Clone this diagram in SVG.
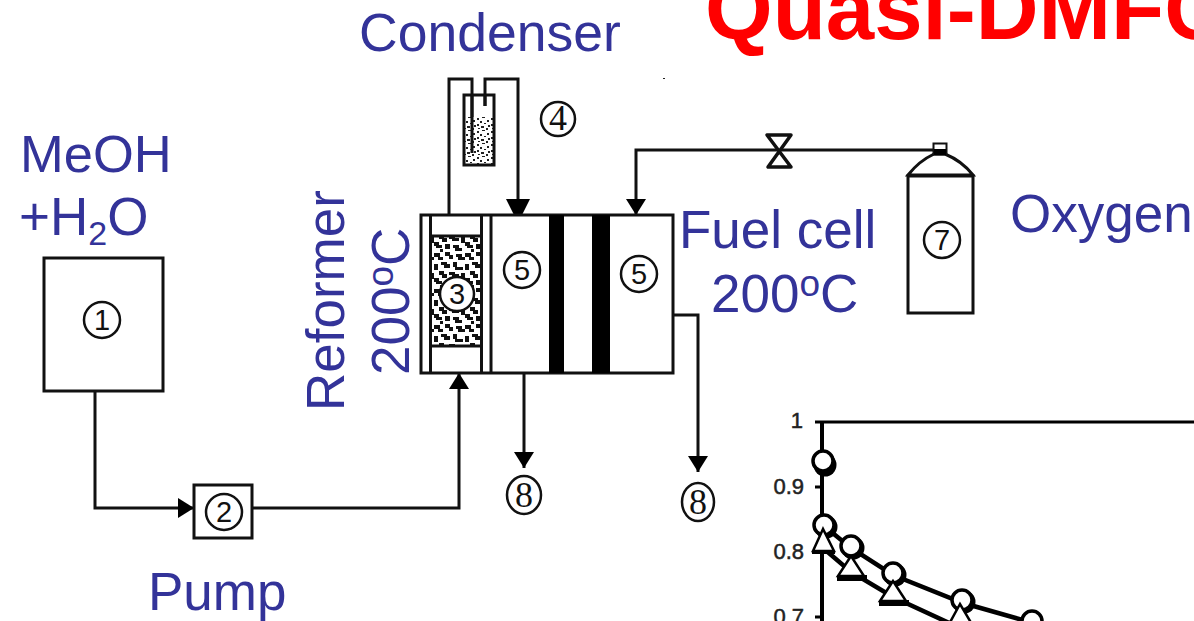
<svg xmlns="http://www.w3.org/2000/svg" width="1194" height="621" viewBox="0 0 1194 621">
<defs>
<style>
.l{font-family:"Liberation Sans",Arial,sans-serif;fill:#333399;font-size:53px}
.s{fill:#fff;stroke:#111;stroke-width:3}
.w{fill:none;stroke:#111;stroke-width:3}
.c{fill:#fff;stroke:#111;stroke-width:2.500}
.n{font-family:"Liberation Sans",Arial,sans-serif;font-size:29px;fill:#111;text-anchor:middle}
.nf{font-family:"Liberation Serif",serif;font-size:36px;fill:#111;text-anchor:middle}
.a{font-family:"Liberation Sans",Arial,sans-serif;font-size:22px;fill:#222;stroke:#222;stroke-width:.5;text-anchor:end}
.pc{fill:#fff;stroke:#000;stroke-width:3.500}
.pt{fill:#fff;stroke:#000;stroke-width:2.500}
</style>
<pattern id="cat" width="31" height="36" patternUnits="userSpaceOnUse">
<rect width="31" height="36" fill="#fff"/>
<path d="M0 1h6v4h3v3h-5v-3h-4zM11 0h5v3h3v4h-4v-3h-4zM22 2h6v3h3v3h-7v-3h-2zM7 10h6v2h3v4h-6v-3h-3zM19 10h4v5h6v3h-8v-3h-2zM0 12h4v6h-4zM5 19h5v3h3v4h-5v-3h-3zM15 20h6v2h4v3h-7v-2h-3zM27 21h4v6h-4zM0 26h5v3h3v3h-6v-2h-2zM11 28h5v5h-5zM19 29h6v3h3v3h-7v-3h-2zM6 33h3v3h-3z" fill="#111"/>
</pattern>
<pattern id="sti" width="14" height="13" patternUnits="userSpaceOnUse">
<rect width="14" height="13" fill="#fff"/>
<path d="M1 1h2v2h-2zM6 0h3v1h-3zM11 3h2v2h-2zM4 4h2v2h-2zM8 6h2v1h-2zM1 7h2v2h-2zM12 8h2v2h-2zM5 9h3v2h-3zM2 11h2v1h-2zM10 11h2v2h-2z" fill="#222"/>
</pattern>
<marker id="ar" viewBox="0 0 16 20" refX="16" refY="10" markerWidth="16" markerHeight="20" markerUnits="userSpaceOnUse" orient="auto"><path d="M0 0L16 10L0 20z" fill="#000"/></marker>
<marker id="ab" viewBox="0 0 16 24" refX="16" refY="12" markerWidth="16" markerHeight="24" markerUnits="userSpaceOnUse" orient="auto"><path d="M0 0L16 8V16L0 24z" fill="#000"/></marker>
</defs>
<rect width="1194" height="621" fill="#fff"/>
<text x="705" y="39" font-family="'Liberation Sans',Arial,sans-serif" font-weight="bold" font-size="87" fill="#ff0000">Quasi-DMFC</text>
<rect x="663" y="78" width="2" height="1" fill="#222"/>
<g id="connectors">
<path class="w" d="M95 391V508H194" marker-end="url(#ar)"/>
<path class="w" d="M252 508H459V373" marker-end="url(#ar)"/>
<path class="w" d="M449 215V79H472V153"/>
<path class="w" d="M485 106V79H518V215" marker-end="url(#ab)"/>
<path class="w" d="M933 150H636V215" marker-end="url(#ar)"/>
<path class="w" d="M524 373V468" marker-end="url(#ar)"/>
<path class="w" d="M673 315H698V472" marker-end="url(#ar)"/>
</g>
<g id="tank"><rect class="s" x="44" y="258" width="119" height="133"/><circle class="c" cx="102" cy="320" r="18"/><text class="n" x="102" y="330">1</text></g>
<g id="pump"><rect class="s" x="194" y="485" width="58" height="53"/><circle class="c" cx="224" cy="512" r="18"/><text class="n" x="224" y="522">2</text></g>
<g id="condenser">
<rect x="465" y="117" width="28" height="48" fill="url(#sti)"/>
<rect x="464" y="95" width="30" height="70" fill="none" stroke="#111" stroke-width="3"/>
<path class="w" d="M472 95V153M485 95V106"/>
<circle class="c" cx="558" cy="119" r="17"/><text class="nf" x="558" y="130">4</text>
</g>
<g id="reformer-cell">
<rect class="s" x="421" y="215" width="252" height="158"/>
<rect x="431" y="237" width="50" height="108" fill="url(#cat)"/>
<path class="w" d="M430.500 215V373M481.500 215V373M491 215V373M431 236H481M431 346H481"/>
<rect x="549" y="215" width="15" height="158" fill="#000"/>
<rect x="592" y="215" width="18" height="158" fill="#000"/>
<circle class="c" cx="457" cy="294" r="17"/><text class="n" x="457" y="304">3</text>
<circle class="c" cx="522" cy="270" r="18"/><text class="n" x="522" y="280">5</text>
<circle class="c" cx="639" cy="274" r="18"/><text class="n" x="639" y="284">5</text>
</g>
<g id="out-a"><ellipse class="c" cx="524" cy="495" rx="17" ry="19"/><text class="nf" x="524" y="507">8</text></g>
<g id="out-b"><ellipse class="c" cx="698" cy="502" rx="16" ry="19"/><text class="nf" x="698" y="514">8</text></g>
<g id="valve"><path d="M767 135H791L768 167H791Z" fill="#fff" stroke="#111" stroke-width="3.500" stroke-linejoin="round"/></g>
<g id="cylinder">
<path class="s" d="M908 176V313H973V176Z"/>
<path class="s" d="M908 175Q919 161 934 154H945Q962 161 973 175Z"/>
<rect x="933.500" y="143.500" width="13" height="11" fill="#fff" stroke="#111" stroke-width="2"/>
<rect x="934" y="149" width="12" height="6" fill="#000"/>
<circle class="c" cx="942" cy="240" r="18"/><text class="n" x="942" y="250">7</text>
</g>
<g id="chart">
<path d="M815 422H1194" stroke="#000" stroke-width="3" fill="none"/>
<path d="M822 421V621" stroke="#000" stroke-width="4" fill="none"/>
<path d="M815 487H822M815 552H822M815 617H822" stroke="#000" stroke-width="3" fill="none"/>
<text class="a" x="803" y="428">1</text>
<text class="a" x="804" y="494">0.9</text>
<text class="a" x="804" y="559">0.8</text>
<text class="a" x="804" y="624">0.7</text>
<path d="M824 526L851 548L893 575L963 603L1033 623" stroke="#000" stroke-width="4.500" fill="none"/>
<path d="M823 548L851 572L893 597L960 628" stroke="#000" stroke-width="4.500" fill="none"/>
<circle cx="825" cy="465" r="11.500" fill="#000"/><circle class="pc" cx="823" cy="461" r="10"/>
<circle cx="826" cy="527" r="11.500" fill="#000"/><circle class="pc" cx="824" cy="525" r="10"/>
<path class="pt" d="M823 529L813 551H834Z"/><path d="M812 551H835V554H812Z"/>
<circle cx="853" cy="548" r="11.500" fill="#000"/><circle class="pc" cx="851" cy="546" r="10"/>
<path class="pt" d="M851 556L838 576H864Z"/><path d="M837 575H867V581H837Z"/>
<circle cx="895" cy="575" r="11.500" fill="#000"/><circle class="pc" cx="893" cy="573" r="10"/>
<path class="pt" d="M893 581L880 601H906Z"/><path d="M879 600H909V606H879Z"/>
<circle cx="964" cy="602" r="11.500" fill="#000"/><circle class="pc" cx="962" cy="600" r="10"/>
<path class="pt" d="M960 604L948 626H973Z"/>
<circle class="pc" cx="1032" cy="621" r="10"/>
</g>
<g id="labels">
<text class="l" x="359" y="51" style="font-size:53.500px">Condenser</text>
<text class="l" x="20" y="172" style="font-size:52.500px">MeOH</text>
<text class="l" x="19" y="235">+H<tspan font-size="34" dy="10">2</tspan><tspan dy="-10">O</tspan></text>
<text class="l" x="148" y="610">Pump</text>
<text class="l" x="1010" y="232">Oxygen</text>
<text class="l" x="679" y="248">Fuel cell</text>
<text class="l" x="711" y="312">200<tspan font-size="37" dy="-16">o</tspan><tspan dy="16">C</tspan></text>
<text class="l" transform="translate(344,411) rotate(-90)">Reformer</text>
<text class="l" transform="translate(409,375) rotate(-90)">200<tspan font-size="37" dy="-16">o</tspan><tspan dy="16">C</tspan></text>
</g>
</svg>
